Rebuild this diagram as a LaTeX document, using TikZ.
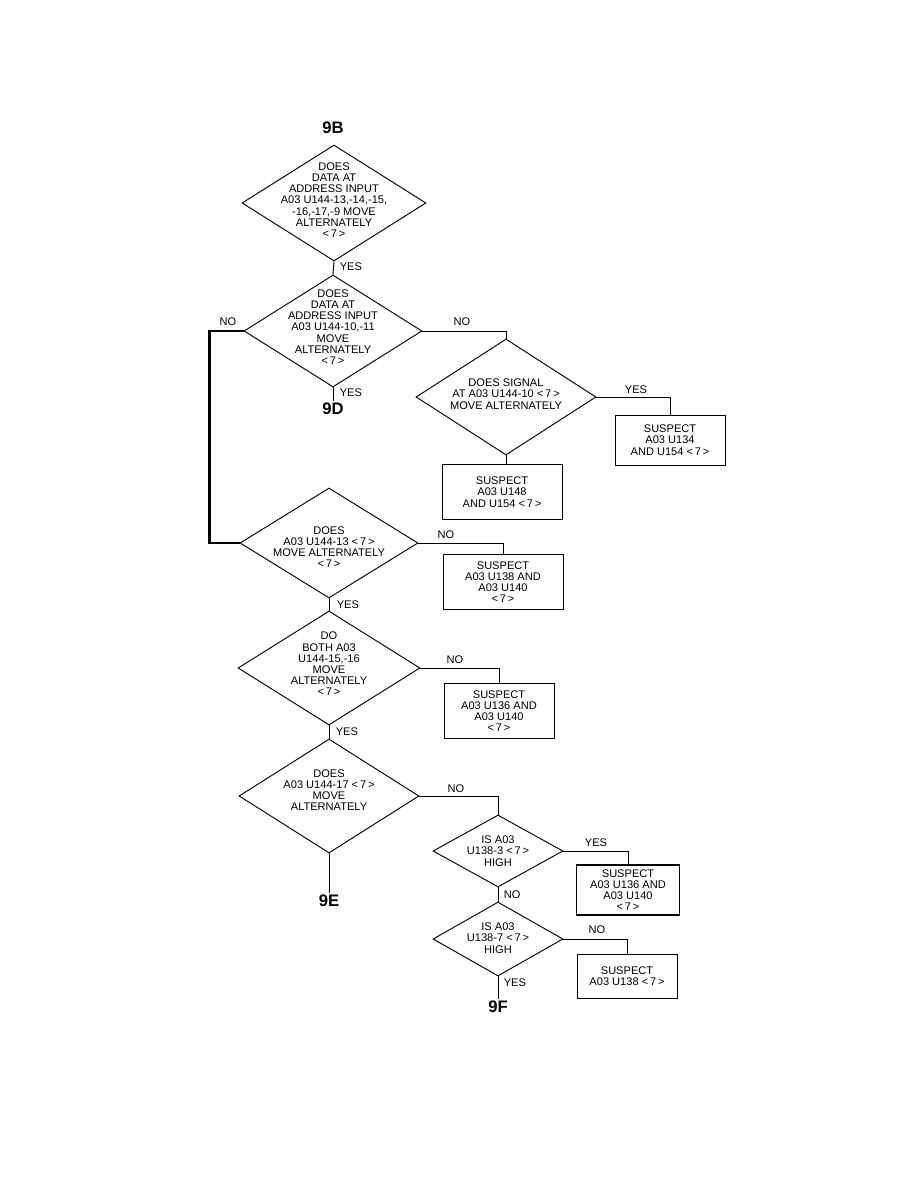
\documentclass[tikz,border=0pt]{standalone}
\usepackage{fontspec}
\setmainfont{Liberation Sans}
\usetikzlibrary{shapes.geometric}
\begin{document}
\begin{tikzpicture}[x=0.75pt,y=-0.75pt,line width=0.7pt,
    dia/.style={draw, diamond, inner sep=0pt},
    dtext/.style={align=center, font=\fontsize{8.3}{8.4}\selectfont, inner sep=0pt},
    box/.style={draw, align=center, font=\fontsize{8.3}{8.4}\selectfont, inner sep=0pt},
    yn/.style={font=\fontsize{8.3}{8.4}\selectfont, inner sep=1pt},
    tag/.style={font=\fontsize{12.5}{12.5}\selectfont\bfseries, inner sep=1pt},
    heavy/.style={line width=1.8pt}]
    \useasboundingbox (0,0) rectangle (918,1188);
    % entry
    \node[tag] (l9b) at (333,128) {9B};
    \node[dia, minimum width=138pt, minimum height=87pt] (d1) at (334,203) {};
    \node[dtext] at (334,200) {DOES\\DATA AT\\ADDRESS INPUT\\A03 U144-13,-14,-15,\\-16,-17,-9 MOVE\\ALTERNATELY\\<\,7\,>};
    \node[dia, minimum width=133.5pt, minimum height=84pt] (d2) at (333,331) {};
    \node[dtext] at (333,327) {DOES\\DATA AT\\ADDRESS INPUT\\A03 U144-10,-11\\MOVE\\ALTERNATELY\\<\,7\,>};
    \node[tag, anchor=north] (l9d) at (333,401) {9D};
    % right branch of d2
    \node[dia, minimum width=135pt, minimum height=87pt] (d4) at (506,397) {};
    \node[dtext] at (506,394) {DOES SIGNAL\\AT A03 U144-10 <\,7\,>\\MOVE ALTERNATELY};
    \node[box, minimum width=82.5pt, minimum height=37.5pt] (b1) at (670,440) {SUSPECT\\A03 U134\\AND U154 <\,7\,>};
    \node[box, minimum width=90pt, minimum height=41.25pt] (b2) at (502,492) {SUSPECT\\A03 U148\\AND U154 <\,7\,>};
    % main column
    \node[dia, minimum width=133.5pt, minimum height=82.5pt] (d3) at (329,543) {};
    \node[dtext] at (329,547) {DOES\\A03 U144-13 <\,7\,>\\MOVE ALTERNATELY\\<\,7\,>};
    \node[box, minimum width=90pt, minimum height=41.25pt] (b3) at (503,582) {SUSPECT\\A03 U138 AND\\A03 U140\\<\,7\,>};
    \node[dia, minimum width=136.5pt, minimum height=85.5pt] (d5) at (329,668) {};
    \node[dtext] at (329,664) {DO\\BOTH A03\\U144-15,-16\\MOVE\\ALTERNATELY\\<\,7\,>};
    \node[box, minimum width=82.5pt, minimum height=41.25pt] (b4) at (499,711) {SUSPECT\\A03 U136 AND\\A03 U140\\<\,7\,>};
    \node[dia, minimum width=135pt, minimum height=85.5pt] (d6) at (329,796) {};
    \node[dtext] at (329,790) {DOES\\A03 U144-17 <\,7\,>\\MOVE\\ALTERNATELY};
    \node[tag, anchor=north] (l9e) at (329,893) {9E};
    \node[dia, minimum width=97.5pt, minimum height=54pt] (d7) at (498,851) {};
    \node[dtext] at (498,851) {IS A03\\U138-3 <\,7\,>\\HIGH};
    \node[box, line width=1.2pt, minimum width=77.25pt, minimum height=37.5pt] (b5) at (628,890) {SUSPECT\\A03 U136 AND\\A03 U140\\<\,7\,>};
    \node[dia, minimum width=97.5pt, minimum height=55.5pt] (d8) at (498,939) {};
    \node[dtext] at (498,938) {IS A03\\U138-7 <\,7\,>\\HIGH};
    \node[box, minimum width=75pt, minimum height=33pt] (b6) at (627,976) {SUSPECT\\A03 U138 <\,7\,>};
    \node[tag, anchor=north] (l9f) at (498,999) {9F};
    % connectors
    \draw (d1.south) -- (d2.north);
    \draw (d2.south) -- (l9d.north);
    \draw[heavy] (d2.west) -- ++(-34,0) |- (d3.west);
    \draw (d2.east) -| (d4.north);
    \draw (d4.east) -| (b1.north);
    \draw (d4.south) -- (d4.south |- b2.north);
    \draw (d3.east) -| (b3.north);
    \draw (d3.south) -- (d5.north);
    \draw (d5.east) -| (b4.north);
    \draw (d5.south) -- (d6.north);
    \draw (d6.south) -- (l9e.north);
    \draw (d6.east) -| (d7.north);
    \draw (d7.east) -| (b5.north);
    \draw (d7.south) -- (d8.north);
    \draw (d8.east) -| (b6.north);
    \draw (d8.south) -- (l9f.north);
    % yes / no
    \node[yn, anchor=west] at (338,267) {YES};
    \node[yn] at (228,322) {NO};
    \node[yn] at (462,322) {NO};
    \node[yn, anchor=west] at (338,393) {YES};
    \node[yn] at (636,390) {YES};
    \node[yn] at (446,535) {NO};
    \node[yn, anchor=west] at (335,605) {YES};
    \node[yn] at (455,660) {NO};
    \node[yn, anchor=west] at (334,732) {YES};
    \node[yn] at (456,789) {NO};
    \node[yn] at (596,843) {YES};
    \node[yn, anchor=west] at (502,895) {NO};
    \node[yn] at (597,930) {NO};
    \node[yn, anchor=west] at (502,983) {YES};
\end{tikzpicture}
\end{document}
